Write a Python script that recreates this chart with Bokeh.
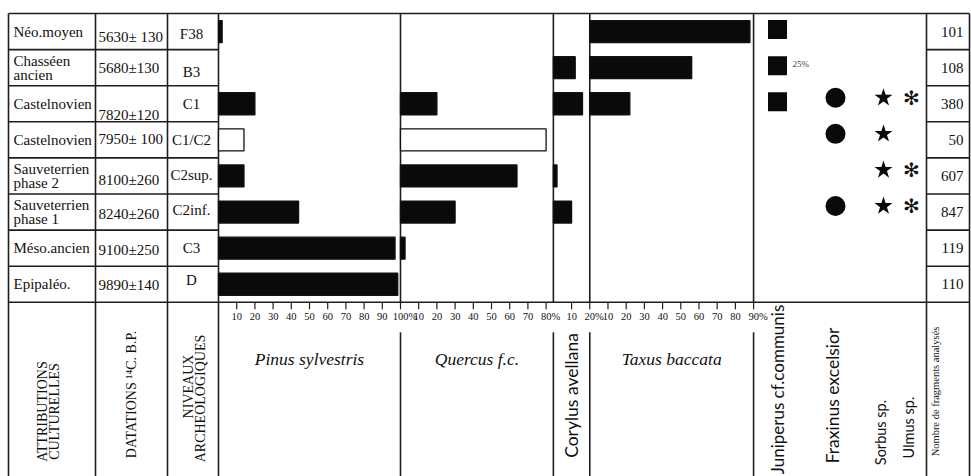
import math
from bokeh.plotting import figure
from bokeh.models import Range1d
from bokeh.core.properties import value
from bokeh.embed import file_html
from bokeh.resources import INLINE

# ---------------- data ----------------
cultures = [["Néo.moyen"], ["Chasséen", "ancien"], ["Castelnovien"], ["Castelnovien"],
            ["Sauveterrien", "phase 2"], ["Sauveterrien", "phase 1"], ["Méso.ancien"], ["Epipaléo."]]
dates = ["5630± 130", "5680±130", "7820±120", "7950± 100", "8100±260", "8240±260", "9100±250", "9890±140"]
levels = ["F38", "B3", "C1", "C1/C2", "C2sup.", "C2inf.", "C3", "D"]

pinus = [2, 0, 20, 14, 14, 44, 97, 98.5]
quercus = [0, 0, 20, 80, 64, 30, 2.5, 0]
corylus = [0, 12, 16, 0, 2, 10, 0, 0]
taxus = [88, 56, 22, 0, 0, 0, 0, 0]
hollow = [False, False, False, True, False, False, False, False]

juniperus = [1, 1, 1, 0, 0, 0, 0, 0]
juniperus_note = ["", "25%", "", "", "", "", "", ""]
fraxinus = [0, 0, 1, 1, 0, 1, 0, 0]
sorbus = [0, 0, 1, 1, 1, 1, 0, 0]
ulmus = [0, 0, 1, 0, 1, 1, 0, 0]
counts = [101, 108, 380, 50, 607, 847, 119, 110]

panel_names = ["Pinus sylvestris", "Quercus f.c.", "Corylus avellana", "Taxus baccata"]
panel_values = [pinus, quercus, corylus, taxus]
panel_last_tick = [100, 80, 20, 90]
panel_span = [100, 84, 20, 90]

# ---------------- layout (page pixels) ----------------
W, H = 971, 476
LEFT, RIGHT = 8, 969
TOP = 13
ROW_H = 36.1
N = len(levels)
HDR = TOP + N * ROW_H
BOTTOM = 476
COLS = [8, 95, 167, 218]
PX = 1.82
OTHER_END = 926
LINE = "#1e1e1e"

starts = [COLS[-1]]
for s in panel_span[:-1]:
    starts.append(starts[-1] + s * PX)
taxus_end = starts[-1] + panel_span[-1] * PX

def rc(i):
    return TOP + (i + 0.5) * ROW_H

p = figure(width=W, height=H, x_range=Range1d(0, W), y_range=Range1d(H, 0),
           x_axis_location=None, y_axis_location=None, toolbar_location=None,
           output_backend="svg", min_border=0, outline_line_color=None)
p.grid.visible = False
p.background_fill_color = "white"
p.border_fill_color = "white"

def txt(x, y, s, size, font="Liberation Serif", style="normal", align="center",
        baseline="middle", angle=0.0, color="#111111"):
    p.text(x=[x], y=[y], text=[s], text_font=value(font), text_font_size=value(f"{size}px"),
           text_font_style=value(style), text_align=value(align), text_baseline=value(baseline),
           angle=angle, text_color=color)

# ---------------- lines ----------------
xs0, ys0, xs1, ys1 = [], [], [], []
def seg(x0, y0, x1, y1):
    xs0.append(x0); ys0.append(y0); xs1.append(x1); ys1.append(y1)

seg(LEFT, TOP, RIGHT, TOP)
seg(LEFT, HDR, RIGHT, HDR)
for x in COLS + [OTHER_END, RIGHT]:
    seg(x, TOP, x, BOTTOM)
for x in starts[1:] + [taxus_end]:
    seg(x, TOP, x, HDR)
    seg(x, HDR + 30, x, BOTTOM)
for k in range(1, N):
    y = TOP + k * ROW_H
    seg(COLS[0], y, COLS[-1], y)
    seg(OTHER_END, y, RIGHT, y)
p.segment(x0=xs0, y0=ys0, x1=xs1, y1=ys1, line_color=LINE, line_width=1.6)

# ticks and tick labels
tx0, ty0, tx1, ty1 = [], [], [], []
for st, last in zip(starts, panel_last_tick):
    for t in range(10, last + 1, 10):
        x = st + t * PX
        tx0.append(x); ty0.append(HDR); tx1.append(x); ty1.append(HDR + 7)
        num = str(t)
        lab = num + ("%" if t == last else "")
        txt(x - len(num) * 2.6, HDR + 14, lab, 10.5, align="left")
p.segment(x0=tx0, y0=ty0, x1=tx1, y1=ty1, line_color=LINE, line_width=1.2)

# ---------------- bars ----------------
BAR_H = 22
for st, vals in zip(starts, panel_values):
    for i, v in enumerate(vals):
        if v <= 0:
            continue
        fill = "white" if hollow[i] else "#0a0a0a"
        p.quad(left=[st], right=[st + v * PX], top=[rc(i) - BAR_H / 2], bottom=[rc(i) + BAR_H / 2],
               fill_color=fill, line_color="#111111", line_width=1.3)

# ---------------- table texts ----------------
date_nudge = [5, 0, 11, -1, 4, 2, 2, 1]
level_nudge = [2, 4, 0, 0, -1, -2, 0, -4]
for i in range(N):
    c = rc(i)
    lines = cultures[i]
    if len(lines) == 1:
        txt(13, c, lines[0], 15, align="left")
    else:
        txt(13, c - 7, lines[0], 15, align="left")
        txt(13, c + 7, lines[1], 15, align="left")
    txt(98, c + date_nudge[i], dates[i], 15, align="left")
    txt(191, c + level_nudge[i], levels[i], 15)
    txt(963, c, str(counts[i]), 15, align="right")

# presence symbols
jx, jy, fx, fy, sx, sy, ux, uy = [], [], [], [], [], [], [], []
for i in range(N):
    c = rc(i)
    if juniperus[i]:
        jx.append(777); jy.append(c - 2)
        if juniperus_note[i]:
            txt(792, c - 4, juniperus_note[i], 9, align="left", color="#444444")
    if fraxinus[i]:
        fx.append(835); fy.append(c - 6)
    if sorbus[i]:
        sx.append(883); sy.append(c - 6)
    if ulmus[i]:
        ux.append(911); uy.append(c - 6)
p.scatter(x=jx, y=jy, marker="square", size=19, fill_color="#0a0a0a", line_color=None)
p.scatter(x=fx, y=fy, marker="circle", size=20, fill_color="#0a0a0a", line_color=None)
p.scatter(x=sx, y=sy, marker="star", size=19, fill_color="#0a0a0a", line_color=None)
p.text(x=ux, y=uy, text=["✻"] * len(ux), text_font=value("DejaVu Sans"), text_font_size=value("20px"),
       text_align=value("center"), text_baseline=value("middle"), text_color="#111111")

# ---------------- header texts ----------------
A = math.pi / 2
txt(42, 411, "ATTRIBUTIONS", 14, angle=A)
txt(54, 411, "CULTURELLES", 14, angle=A)
txt(131, 394, "DATATIONS ¹⁴C. B.P.", 14, angle=A)
txt(188, 386, "NIVEAUX", 14, angle=A)
txt(200, 398, "ARCHEOLOGIQUES", 14, angle=A)

italic_x = [(starts[0] + starts[1]) / 2, (starts[1] + starts[2]) / 2, None, (starts[3] + taxus_end) / 2]
for name, xc in zip(panel_names, italic_x):
    if xc is not None:
        txt(xc, 358, name, 17.5, style="italic")
txt((starts[2] + starts[3]) / 2, 395, panel_names[2], 17.5, font="Lato", angle=A)

txt(777, 389, "Juniperus cf.communis", 17, font="Lato", angle=A)
txt(832, 395, "Fraxinus excelsior", 17.5, font="Lato", angle=A)
txt(880, 432, "Sorbus sp.", 14.5, font="Lato", angle=A)
txt(908, 427, "Ulmus sp.", 14.5, font="Lato", angle=A)
txt(935, 391, "Nombre de fragments analysés", 10.5, angle=A)

open("out.html", "w").write(file_html(p, INLINE))
